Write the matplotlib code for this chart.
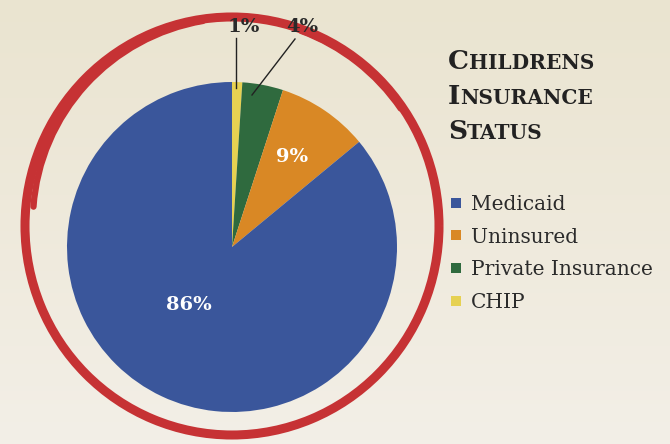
import numpy as np
import matplotlib.pyplot as plt
from matplotlib.patches import Arc

# data
labels = ['Medicaid', 'Uninsured', 'Private Insurance', 'CHIP']
shares = [86, 9, 4, 1]
colors = ['#3a569b', '#d98825', '#2f6a3e', '#e6d152']

W, H = 670, 444
fig = plt.figure(figsize=(W / 100, H / 100), dpi=100)
ax = fig.add_axes([0, 0, 1, 1])
ax.set_xlim(0, W)
ax.set_ylim(0, H)
ax.axis('off')

# parchment background (soft gradient)
g = np.linspace(0, 1, 100)[:, None]
top = np.array([234, 228, 208]) / 255
bot = np.array([243, 239, 231]) / 255
bg = top * (1 - g[..., None]) + bot * g[..., None]
bg = np.repeat(bg, 2, axis=1)
ax.imshow(bg, extent=[0, W, 0, H], origin='upper', aspect='auto', zorder=0)

# hand drawn red ring
red = '#c63234'
ax.add_patch(Arc((232, H - 226), 414, 418, theta1=0, theta2=360,
                 lw=6.5, color=red, zorder=1))
ax.add_patch(Arc((238, H - 221), 410, 406, theta1=100, theta2=176,
                 lw=4.5, color=red, zorder=1, capstyle='round'))
ax.add_patch(Arc((229, H - 229), 416, 420, theta1=35, theta2=70,
                 lw=3, color=red, zorder=1, capstyle='round'))

# pie, clockwise from 12 o'clock, smallest slice first
vals = shares[::-1]
cols = colors[::-1]
cx, cy, r = 232, H - 247, 165
wedges, _ = ax.pie(vals, colors=cols, startangle=90, counterclock=False,
                   center=(cx, cy), radius=r, frame=True,
                   wedgeprops=dict(linewidth=0))
for w in wedges:
    w.set_zorder(2)
ax.set_xlim(0, W)
ax.set_ylim(0, H)
ax.axis('off')

serif = 'DejaVu Serif'
lab = dict(family=serif, weight='bold', fontsize=14, ha='center', zorder=4)
ax.text(189, H - 305, f'{shares[0]}%', color='white', va='center', **lab)
ax.text(292, H - 157, f'{shares[1]}%', color='white', va='center', **lab)
ax.text(244, H - 32, f'{shares[3]}%', color='#2a2a2a', va='baseline', **lab)
ax.text(302, H - 32, f'{shares[2]}%', color='#2a2a2a', va='baseline', **lab)
ax.plot([236, 236], [H - 38, H - 88], color='#222222', lw=1, zorder=4)
ax.plot([295, 252], [H - 39, H - 95], color='#222222', lw=1, zorder=4)

# title in small caps
fig.canvas.draw()
rend = fig.canvas.get_renderer()
title_rows = ['CHILDRENS', 'INSURANCE', 'STATUS']
for i, word in enumerate(title_rows):
    yb = H - (69 + 35 * i)
    t = ax.text(448, yb, word[0], family=serif, weight='bold', fontsize=19,
                color='#222222', va='baseline', ha='left', zorder=4)
    wpx = t.get_window_extent(rend).width
    ax.text(448 + wpx, yb, word[1:], family=serif, weight='bold', fontsize=14.5,
            color='#222222', va='baseline', ha='left', zorder=4)

# legend
for i, (name, c) in enumerate(zip(labels, colors)):
    yc = H - (203 + 32.5 * i)
    ax.scatter([456], [yc], marker='s', s=62, color=c, linewidths=0, zorder=4)
    ax.text(471, yc - 7, name, family=serif, fontsize=14.5, color='#2b2b2b',
            va='baseline', ha='left', zorder=4)

fig.savefig('out.png', dpi=100)
